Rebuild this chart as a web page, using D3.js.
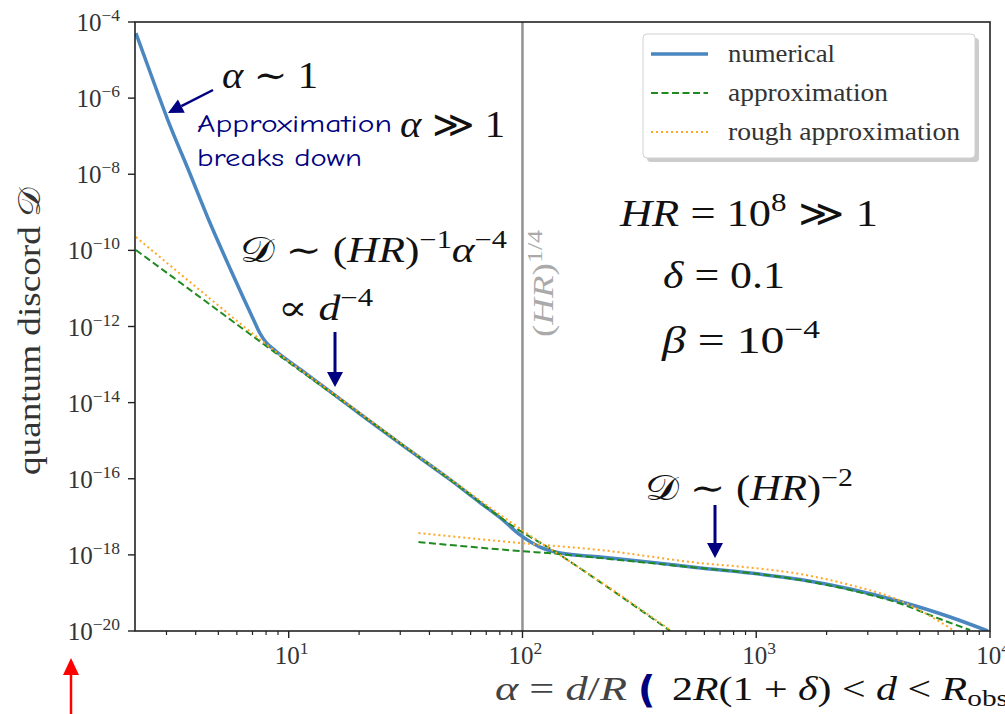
<!DOCTYPE html>
<html>
<head>
<meta charset="utf-8">
<script src="https://cdn.jsdelivr.net/npm/d3@7"></script>
<style>
  body { margin: 0; background: #fff; }
  svg { display: block; }
</style>
</head>
<body>
<div id="chart"></div>
<script>
// values: alpha = d/R, D = quantum discord
const numAlpha = [2.22, 2.57, 3.04, 3.74, 4.55, 5.65, 7.08, 7.52, 7.98, 8.80, 11.3, 18.4, 30.1, 49.2, 66.2, 80.5, 98, 119, 145, 215, 352, 577, 942, 1542, 2523, 4123, 6745, 9790];
const numD = [5.1e-5, 4.3e-6, 2.66e-7, 1.22e-8, 6.3e-10, 3.05e-11, 1.48e-12, 6.75e-13, 3.9e-13, 2.27e-13, 7.2e-14, 7.7e-15, 8.2e-16, 9.3e-17, 2.3e-17, 9.3e-18, 3.3e-18, 1.6e-18, 1.12e-18, 8.8e-19, 6.45e-19, 4.5e-19, 3.33e-19, 2.25e-19, 1.27e-19, 5.95e-20, 2.33e-20, 1.0e-20];

// approximation, small-alpha branch and large-alpha branch
const apxAlpha1 = [2.22, 4.21, 7.59, 18.4, 49.2, 98, 128, 215, 429];
const apxD1 = [1.02e-10, 5.67e-12, 3.91e-13, 7.66e-15, 9.25e-17, 4.23e-18, 1.61e-18, 1.93e-19, 1.0e-20];
const apxAlpha2 = [35.9, 98, 145, 215, 577, 942, 1542, 2523, 4123, 6110, 8220];
const apxD2 = [2.17e-18, 1.26e-18, 1.05e-18, 8.26e-19, 4.5e-19, 3.33e-19, 2.18e-19, 1.19e-19, 5.27e-20, 2.06e-20, 1.06e-20];

// rough approximation
const roughAlpha1 = [2.22, 4.21, 7.59, 18.4, 49.2, 98, 215, 429];
const roughD1 = [2.24e-10, 8.55e-12, 4.4e-13, 8.1e-15, 9.8e-17, 4.8e-18, 2.0e-19, 1.06e-20];
const roughAlpha2 = [35.9, 98, 215, 577, 942, 1542, 2523, 4123, 5546, 6627, 7080];
const roughD2 = [3.75e-18, 2.05e-18, 1.34e-18, 6.1e-19, 4.64e-19, 3.14e-19, 1.61e-19, 6.3e-20, 2.47e-20, 1.27e-20, 9.7e-21];

const xTicks = [10, 100, 1000, 10000];
const xTickExp = ["1", "2", "3", "4"];
const yTicks = [1e-4, 1e-6, 1e-8, 1e-10, 1e-12, 1e-14, 1e-16, 1e-18, 1e-20];
const yTickExp = ["\u22124", "\u22126", "\u22128", "\u221210", "\u221212", "\u221214", "\u221216", "\u221218", "\u221220"];
const legendLabels = ["numerical", "approximation", "rough approximation"];
const legendTextLen = [107, 160, 232];
const verticalAt = 100;

const width = 1005, height = 714;
const plot = {left: 135, right: 990, top: 22, bottom: 631};
const serif = "'Liberation Serif', 'DejaVu Serif', serif";

const svg = d3.select("#chart").append("svg")
    .attr("width", width)
    .attr("height", height);

const x = d3.scaleLog().domain([2.2, 1e4]).range([plot.left, plot.right]);
const y = d3.scaleLog().domain([1e-20, 1e-4]).range([plot.bottom, plot.top]);

svg.append("clipPath").attr("id", "clip")
    .append("rect")
    .attr("x", plot.left).attr("y", plot.top)
    .attr("width", plot.right - plot.left).attr("height", plot.bottom - plot.top);

const zip = (a, b) => a.map((v, i) => [v, b[i]]);
const line = d3.line()
    .x(d => x(d[0]))
    .y(d => y(d[1]))
    .curve(d3.curveMonotoneX);

const plotArea = svg.append("g").attr("clip-path", "url(#clip)");

// vertical line at (HR)^{1/4}
plotArea.append("line")
    .attr("x1", x(verticalAt)).attr("x2", x(verticalAt))
    .attr("y1", plot.top).attr("y2", plot.bottom)
    .attr("stroke", "#7f7f7f").attr("stroke-width", 2.5).attr("opacity", 0.85);

// numerical
plotArea.append("path")
    .datum(zip(numAlpha, numD))
    .attr("fill", "none")
    .attr("stroke", "#4a86bf")
    .attr("stroke-width", 3.5)
    .attr("d", line);

// approximation
[zip(apxAlpha1, apxD1), zip(apxAlpha2, apxD2)].forEach(data => {
    plotArea.append("path")
        .datum(data)
        .attr("fill", "none")
        .attr("stroke", "#1f8a1f")
        .attr("stroke-width", 2)
        .attr("stroke-dasharray", "7,3.5")
        .attr("d", line);
});

// rough approximation
[zip(roughAlpha1, roughD1), zip(roughAlpha2, roughD2)].forEach(data => {
    plotArea.append("path")
        .datum(data)
        .attr("fill", "none")
        .attr("stroke", "#ffa726")
        .attr("stroke-width", 2)
        .attr("stroke-dasharray", "2,3")
        .attr("d", line);
});

// ticks
const xMinor = d3.range(0, 4).flatMap(k => d3.range(2, 10).map(m => m * Math.pow(10, k))).filter(v => v >= 2.2 && v < 1e4);
svg.append("g").selectAll("line").data(xMinor).join("line")
    .attr("x1", d => x(d)).attr("x2", d => x(d))
    .attr("y1", plot.bottom).attr("y2", plot.bottom + 4)
    .attr("stroke", "#222").attr("stroke-width", 1.2);
svg.append("g").selectAll("line").data(xTicks).join("line")
    .attr("x1", d => x(d)).attr("x2", d => x(d))
    .attr("y1", plot.bottom).attr("y2", plot.bottom + 7)
    .attr("stroke", "#222").attr("stroke-width", 1.4);
svg.append("g").selectAll("line").data(yTicks).join("line")
    .attr("x1", plot.left - 7).attr("x2", plot.left)
    .attr("y1", d => y(d)).attr("y2", d => y(d))
    .attr("stroke", "#222").attr("stroke-width", 1.4);

// frame
svg.append("rect")
    .attr("x", plot.left).attr("y", plot.top)
    .attr("width", plot.right - plot.left).attr("height", plot.bottom - plot.top)
    .attr("fill", "none").attr("stroke", "#222").attr("stroke-width", 1.6);

// text with superscripts / italics
function math(px, py, size, parts, opts = {}) {
    const t = svg.append("text")
        .attr("x", px).attr("y", py)
        .attr("text-anchor", opts.anchor || "start")
        .attr("fill", opts.fill || "#111")
        .style("font-family", opts.family || serif)
        .style("font-size", size + "px");
    if (opts.len) t.attr("textLength", opts.len).attr("lengthAdjust", "spacingAndGlyphs");
    let shift = 0;
    parts.forEach(([str, kind = ""]) => {
        const ts = t.append("tspan").text(str);
        let target = 0;
        if (kind.includes("sup")) {
            target = -size * 0.4;
            ts.style("font-size", (size * 0.7) + "px");
        } else if (kind.includes("sub")) {
            target = size * 0.18;
            ts.style("font-size", (size * 0.7) + "px");
        }
        if (kind.includes("i")) ts.style("font-style", "italic");
        ts.attr("dy", target - shift);
        shift = target;
    });
    return t;
}

// tick labels
xTicks.forEach((v, i) => {
    math(x(v) + 3, plot.bottom + 33, 25, [["10"], [xTickExp[i], "sup"]], {anchor: "middle", fill: "#333"});
});
yTicks.forEach((v, i) => {
    math(120, y(v) + 9, 25, [["10"], [yTickExp[i], "sup"]], {anchor: "end", fill: "#333"});
});

// axis labels
math(0, 0, 31, [["quantum discord "], ["\uD835\uDC9F"]], {anchor: "middle", fill: "#333", len: 288})
    .attr("transform", "translate(40,331) rotate(-90)");

math(495, 700, 33, [["\u03B1", "i"], [" = "], ["d", "i"], ["/"], ["R", "i"]], {fill: "#444", len: 132});
svg.append("text")
    .attr("x", 638).attr("y", 702)
    .attr("fill", "#000080")
    .style("font-family", "'DejaVu Sans', sans-serif")
    .style("font-weight", "bold")
    .style("font-size", "38px")
    .text("(");
math(672, 700, 33, [["2"], ["R", "i"], ["(1 + "], ["\u03B4", "i"], [") < "], ["d", "i"], [" < "], ["R", "i"], ["obs", "sub"]], {fill: "#111", len: 336});

// legend
const legendColors = ["#4a86bf", "#1f8a1f", "#ffa726"];
const legendDash = [null, "7,3.5", "2,3"];
const legendWidth = [3.5, 2, 2];
svg.append("rect")
    .attr("x", 647).attr("y", 38).attr("width", 332).attr("height", 124).attr("rx", 4)
    .attr("fill", "#aaa").attr("opacity", 0.6);
svg.append("rect")
    .attr("x", 643).attr("y", 34).attr("width", 332).attr("height", 124).attr("rx", 4)
    .attr("fill", "#fff").attr("stroke", "#d0d0d0").attr("stroke-width", 1);
legendLabels.forEach((label, i) => {
    const ly = 54 + i * 39;
    svg.append("line")
        .attr("x1", 651).attr("x2", 708).attr("y1", ly).attr("y2", ly)
        .attr("stroke", legendColors[i]).attr("stroke-width", legendWidth[i])
        .attr("stroke-dasharray", legendDash[i]);
    svg.append("text")
        .attr("x", 728).attr("y", ly + 8)
        .attr("fill", "#333")
        .style("font-family", serif)
        .style("font-size", "26px")
        .attr("textLength", legendTextLen[i]).attr("lengthAdjust", "spacingAndGlyphs")
        .text(label);
});

// arrows
function arrow(x1, y1, x2, y2, color, headLen = 15, headW = 16, sw = 3) {
    const ang = Math.atan2(y2 - y1, x2 - x1);
    const bx = x2 - headLen * Math.cos(ang), by = y2 - headLen * Math.sin(ang);
    svg.append("line")
        .attr("x1", x1).attr("y1", y1).attr("x2", bx).attr("y2", by)
        .attr("stroke", color).attr("stroke-width", sw);
    const px = -Math.sin(ang) * headW / 2, py = Math.cos(ang) * headW / 2;
    svg.append("path")
        .attr("d", `M${x2},${y2}L${bx + px},${by + py}L${bx - px},${by - py}Z`)
        .attr("fill", color);
}
const navy = "#000080";
arrow(213, 90, 168, 113, navy, 15, 15, 2.5);
arrow(335, 332, 335, 387, navy);
arrow(715, 505, 715, 558, navy);
arrow(71, 714, 71, 658, "#ff0000", 17, 16, 2.5);

// annotations
math(222, 88, 37, [["\u03B1", "i"], [" \u223C 1"]], {len: 96});
math(400, 137, 37, [["\u03B1", "i"], [" \u226B 1"]], {len: 105});
const comic = "'Comic Sans MS', 'Comic Neue', 'Noto Sans', sans-serif";
svg.append("text").attr("x", 197).attr("y", 132).attr("fill", navy)
    .style("font-family", comic).style("font-size", "25px").style("font-weight", 500)
    .attr("textLength", 195).attr("lengthAdjust", "spacingAndGlyphs")
    .text("Approximation");
svg.append("text").attr("x", 197).attr("y", 166).attr("fill", navy)
    .style("font-family", comic).style("font-size", "25px").style("font-weight", 500)
    .attr("textLength", 165).attr("lengthAdjust", "spacingAndGlyphs")
    .text("breaks down");

math(240, 262, 35, [["\uD835\uDC9F"], [" \u223C ("], ["HR", "i"], [")"], ["\u22121", "sup"], ["\u03B1", "i"], ["\u22124", "sup"]], {len: 267});
math(278, 320, 35, [["\u221D "], ["d", "i"], ["\u22124", "sup"]], {len: 95});

math(620, 226, 37, [["HR", "i"], [" = 10"], ["8", "sup"], [" \u226B 1"]], {len: 258});
math(663, 288, 37, [["\u03B4", "i"], [" = 0.1"]], {len: 122});
math(662, 353, 37, [["\u03B2", "i"], [" = 10"], ["\u22124", "sup"]], {len: 158});

math(645, 500, 35, [["\uD835\uDC9F"], [" \u223C ("], ["HR", "i"], [")"], ["\u22122", "sup"]], {len: 208});

// (HR)^{1/4} label along the vertical line
math(0, 0, 29, [["("], ["HR", "i"], [")"], ["1/4", "sup"]], {fill: "#aaa", len: 107})
    .attr("transform", `translate(${x(verticalAt) + 31},337) rotate(-90)`);
</script>
</body>
</html>
